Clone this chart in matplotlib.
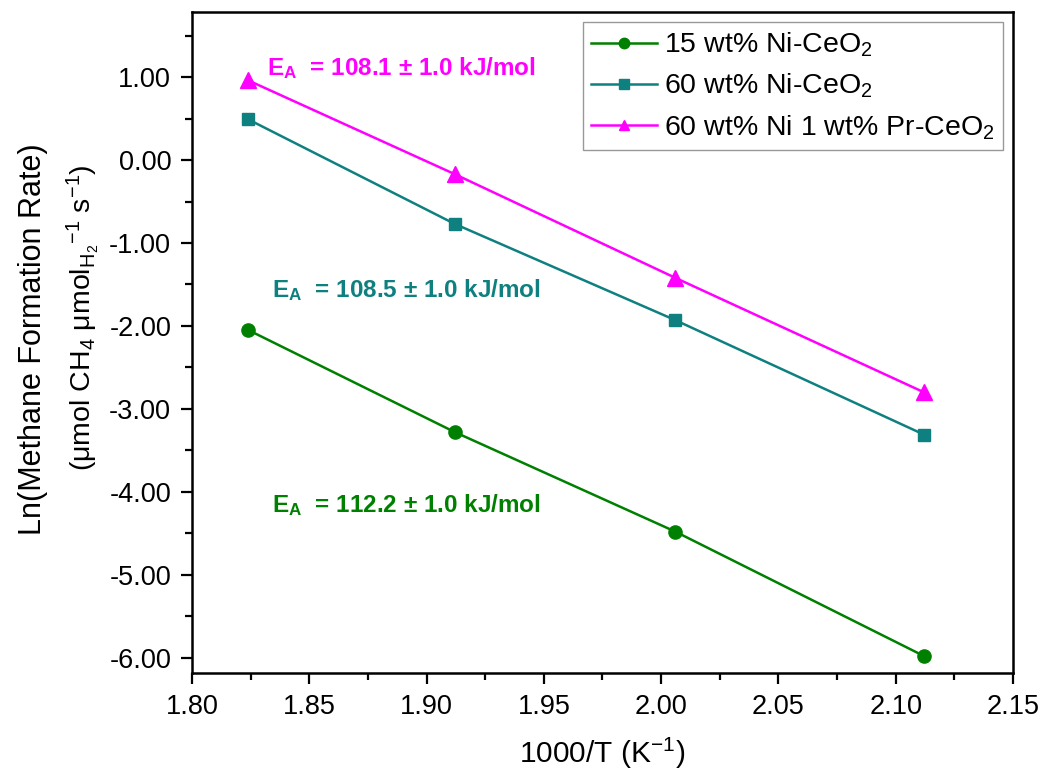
import matplotlib
matplotlib.use("Agg")
import matplotlib.pyplot as plt
from matplotlib.ticker import MultipleLocator, FormatStrFormatter

plt.rcParams["font.family"] = ["Liberation Sans", "DejaVu Sans"]
plt.rcParams["mathtext.fontset"] = "custom"
plt.rcParams["mathtext.rm"] = "Liberation Sans"
plt.rcParams["mathtext.it"] = "Liberation Sans"
plt.rcParams["mathtext.bf"] = "Liberation Sans:bold"

# Arrhenius data: 1000/T (K^-1) vs Ln(methane formation rate)
inv_T = [1.824, 1.912, 2.006, 2.112]
ln_rate_15ni = [-2.05, -3.28, -4.48, -5.98]
ln_rate_60ni = [0.49, -0.77, -1.93, -3.31]
ln_rate_60ni_pr = [0.96, -0.17, -1.42, -2.80]

labels = ["15 wt% Ni-CeO$_2$", "60 wt% Ni-CeO$_2$", "60 wt% Ni 1 wt% Pr-CeO$_2$"]
ea_values = ["112.2", "108.5", "108.1"]
ea_errors = ["1.0", "1.0", "1.0"]

green = "#008000"
teal = "#0f8080"
magenta = "#ff00ff"

fig = plt.figure(figsize=(10.41, 7.79), dpi=100)
ax = fig.add_axes([0.1844, 0.1361, 0.7887, 0.8485])

ax.plot(inv_T, ln_rate_15ni, color=green, lw=1.8, marker="o", ms=9.5, label=labels[0])
ax.plot(inv_T, ln_rate_60ni, color=teal, lw=1.8, marker="s", ms=8.5, label=labels[1])
ax.plot(inv_T, ln_rate_60ni_pr, color=magenta, lw=1.8, marker="^", ms=11, label=labels[2])

ax.set_xlim(1.80, 2.15)
ax.set_ylim(-6.185, 1.785)
ax.xaxis.set_major_locator(MultipleLocator(0.05))
ax.xaxis.set_minor_locator(MultipleLocator(0.025))
ax.yaxis.set_major_locator(MultipleLocator(1.0))
ax.yaxis.set_minor_locator(MultipleLocator(0.5))
ax.xaxis.set_major_formatter(FormatStrFormatter("%.2f"))
ax.yaxis.set_major_formatter(FormatStrFormatter("%.2f"))

for s in ax.spines.values():
    s.set_linewidth(1.8)
ax.tick_params(which="major", direction="out", length=8, width=1.6,
               labelsize=19.5, top=False, right=False)
ax.tick_params(axis="x", which="major", pad=7)
ax.tick_params(axis="y", which="major", pad=7)
ax.tick_params(which="minor", direction="out", length=5, width=1.6,
               top=False, right=False)

# axis titles
fig.text(0.578, 0.0205, "1000/T (K$^{-1}$)", fontsize=21.5,
         ha="center", va="baseline")
fig.text(0.0394, 0.565, "Ln(Methane Formation Rate)", fontsize=22,
         rotation=90, rotation_mode="anchor", ha="center", va="baseline")
fig.text(0.0874, 0.592,
         "(μmol CH$_4$ μmol$_{\\mathrm{H_2}}$$^{-1}$ s$^{-1}$)", fontsize=20.5,
         rotation=90, rotation_mode="anchor", ha="center", va="baseline")

# activation energy annotations
ann = [
    (1.8322, 1.024, magenta, 2),
    (1.8343, -1.65, teal, 1),
    (1.8343, -4.24, green, 0),
]
for x, y, c, i in ann:
    ax.text(x, y, "E$_\\mathbf{A}$  = " + ea_values[i] + " ± " + ea_errors[i] + " kJ/mol",
            color=c, fontsize=17.5, fontweight="bold", ha="left", va="baseline")

leg = ax.legend(loc="upper right", fontsize=20.5, frameon=True, fancybox=False,
                edgecolor="#808080", handlelength=2.3, borderpad=0.3,
                labelspacing=0.45, handletextpad=0.25, borderaxespad=0.35)
leg.get_frame().set_linewidth(1.0)
for h in leg.legend_handles:
    h.set_markersize(7.5)

fig.savefig("out.png", dpi=100)
